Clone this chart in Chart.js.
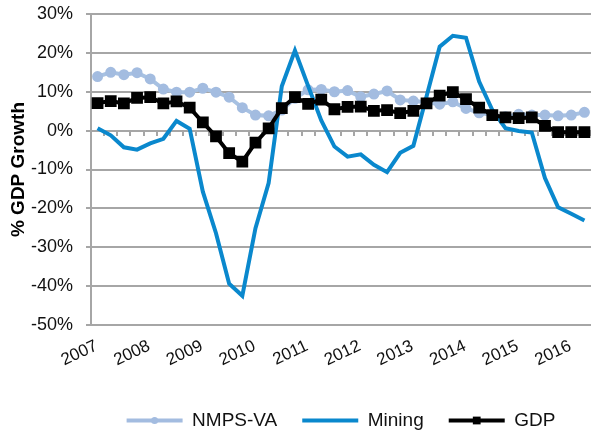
<!DOCTYPE html>
<html>
<head>
<meta charset="utf-8">
<script src="https://cdn.jsdelivr.net/npm/chart.js@4.4.1/dist/chart.umd.min.js"></script>
<style>
  html, body { margin: 0; padding: 0; background: #fff; }
  #wrap { width: 591px; height: 433px; }
</style>
</head>
<body>
<div id="wrap"><canvas id="growthChart" width="591" height="433"></canvas></div>
<script>
// quarterly, 2007Q1 - 2016Q2
const quarters = [
    '2007Q1', '2007Q2', '2007Q3', '2007Q4', '2008Q1', '2008Q2', '2008Q3', '2008Q4',
    '2009Q1', '2009Q2', '2009Q3', '2009Q4', '2010Q1', '2010Q2', '2010Q3', '2010Q4',
    '2011Q1', '2011Q2', '2011Q3', '2011Q4', '2012Q1', '2012Q2', '2012Q3', '2012Q4',
    '2013Q1', '2013Q2', '2013Q3', '2013Q4', '2014Q1', '2014Q2', '2014Q3', '2014Q4',
    '2015Q1', '2015Q2', '2015Q3', '2015Q4', '2016Q1', '2016Q2'
];
const yearLabels = ['2007', '2008', '2009', '2010', '2011', '2012', '2013', '2014', '2015', '2016'];

const nmpsVA = [13.9, 15.0, 14.4, 14.9, 13.3, 10.7, 9.9, 9.9, 10.9, 9.9,
    8.6, 5.9, 4.0, 3.8, 5.3, 8.3, 10.5, 10.6, 10.0, 10.3,
    8.7, 9.4, 10.2, 7.9, 7.6, 7.3, 6.8, 7.4, 5.7, 4.6,
    4.0, 3.6, 4.2, 4.0, 4.0, 3.8, 4.0, 4.7];
const mining = [0.6, -1.2, -4.3, -4.9, -3.3, -2.1, 2.5, 0.5, -15.7, -26.4,
    -39.4, -42.5, -25.1, -13.5, 11.4, 20.6, 11.5, 2.6, -4.1, -6.7,
    -6.1, -8.8, -10.7, -5.7, -3.9, 8.8, 21.6, 24.4, 23.9, 12.6,
    5.3, 0.6, -0.1, -0.5, -12.2, -19.7, -21.4, -23.1];
const gdp = [7.1, 7.6, 7.0, 8.4, 8.6, 7.0, 7.5, 5.9, 2.1, -1.5,
    -5.8, -8.0, -3.1, 0.6, 5.8, 8.6, 6.9, 8.0, 5.5, 6.1,
    6.2, 5.1, 5.3, 4.5, 5.1, 7.0, 9.0, 9.9, 8.1, 5.9,
    4.0, 3.4, 3.2, 3.4, 1.2, -0.4, -0.4, -0.4];

const FONT = "'Liberation Sans', Arial, sans-serif";
const GRID = '#a6a6a6';
const LEGEND_LINE = 56;

// draws the marker on top of the legend line samples
const legendMarkers = {
    id: 'legendMarkers',
    afterDraw(chart) {
        const lg = chart.legend;
        const ctx = chart.ctx;
        lg.legendItems.forEach(function (item, i) {
            const ds = chart.data.datasets[item.datasetIndex];
            const box = lg.legendHitBoxes[i];
            if (!ds.pointRadius) return;
            const cx = box.left + LEGEND_LINE / 2;
            const cy = box.top + box.height / 2;
            ctx.save();
            ctx.fillStyle = ds.pointBackgroundColor;
            ctx.beginPath();
            if (ds.pointStyle === 'rect') {
                const s = ds.pointRadius * Math.SQRT1_2;
                ctx.rect(cx - s, cy - s, 2 * s, 2 * s);
            } else {
                ctx.arc(cx, cy, ds.pointRadius, 0, Math.PI * 2);
            }
            ctx.fill();
            ctx.restore();
        });
    }
};

const ctx = document.getElementById('growthChart').getContext('2d');
const chart = new Chart(ctx, {
    type: 'line',
    data: {
        labels: quarters,
        datasets: [{
            label: 'NMPS-VA',
            data: nmpsVA,
            borderColor: '#a7c1e2',
            backgroundColor: '#a7c1e2',
            pointBackgroundColor: '#a3bce0',
            pointBorderColor: '#a3bce0',
            borderWidth: 4,
            pointRadius: 3.5,
            pointStyle: 'circle',
            order: 3
        }, {
            label: 'Mining',
            data: mining,
            borderColor: '#0a88cd',
            backgroundColor: '#0a88cd',
            borderWidth: 4,
            pointRadius: 0,
            order: 2
        }, {
            label: 'GDP',
            data: gdp,
            borderColor: '#000',
            backgroundColor: '#000',
            pointBackgroundColor: '#000',
            pointBorderColor: '#000',
            borderWidth: 4,
            pointRadius: 5.5,
            pointStyle: 'rect',
            order: 1
        }]
    },
    options: {
        responsive: false,
        animation: false,
        tension: 0,
        layout: { autoPadding: false, padding: { top: 14, right: 0, left: 0, bottom: -7 } },
        scales: {
            x: {
                type: 'category',
                position: { y: 0 },
                offset: true,
                grid: { drawOnChartArea: false, drawTicks: true, tickLength: 5, color: GRID, lineWidth: 2, offset: true },
                border: { display: false },
                ticks: { display: false },
                afterFit: function (s) { s.height = 0; }
            },
            // year labels, one per first quarter
            x2: {
                type: 'linear',
                position: 'bottom',
                min: -0.5,
                max: quarters.length - 0.5,
                grid: { display: false, drawTicks: false },
                border: { display: false },
                afterBuildTicks: function (s) {
                    s.ticks = yearLabels.map(function (y, k) { return { value: k * 4 }; });
                },
                afterFit: function (s) { s.height = 61; s.paddingLeft = 0; s.paddingRight = 0; },
                ticks: {
                    autoSkip: false,
                    minRotation: 25,
                    maxRotation: 25,
                    padding: 11,
                    labelOffset: -1,
                    color: '#111',
                    font: { family: FONT, size: 17 },
                    callback: function (v, i) { return yearLabels[i]; }
                }
            },
            y: {
                min: -50,
                max: 30,
                grid: { color: GRID, lineWidth: 2, tickLength: 5 },
                border: { color: GRID, width: 2 },
                afterFit: function (s) { s.width = 91; s.paddingTop = 10; s.paddingBottom = 10; },
                ticks: {
                    stepSize: 10,
                    padding: 13,
                    color: '#111',
                    font: { family: FONT, size: 18 },
                    callback: function (v) { return v + '%'; }
                },
                title: {
                    display: true,
                    text: '% GDP Growth',
                    color: '#000',
                    padding: { top: 7, bottom: 0 },
                    font: { family: FONT, size: 19, weight: 'bold' }
                }
            }
        },
        plugins: {
            legend: {
                position: 'bottom',
                fullSize: false,
                labels: {
                    usePointStyle: true,
                    pointStyle: 'line',
                    pointStyleWidth: LEGEND_LINE,
                    padding: 25,
                    color: '#111',
                    font: { family: FONT, size: 19 },
                    sort: function (a, b) { return a.datasetIndex - b.datasetIndex; }
                }
            },
            tooltip: { enabled: false }
        }
    },
    plugins: [legendMarkers]
});
</script>
</body>
</html>
